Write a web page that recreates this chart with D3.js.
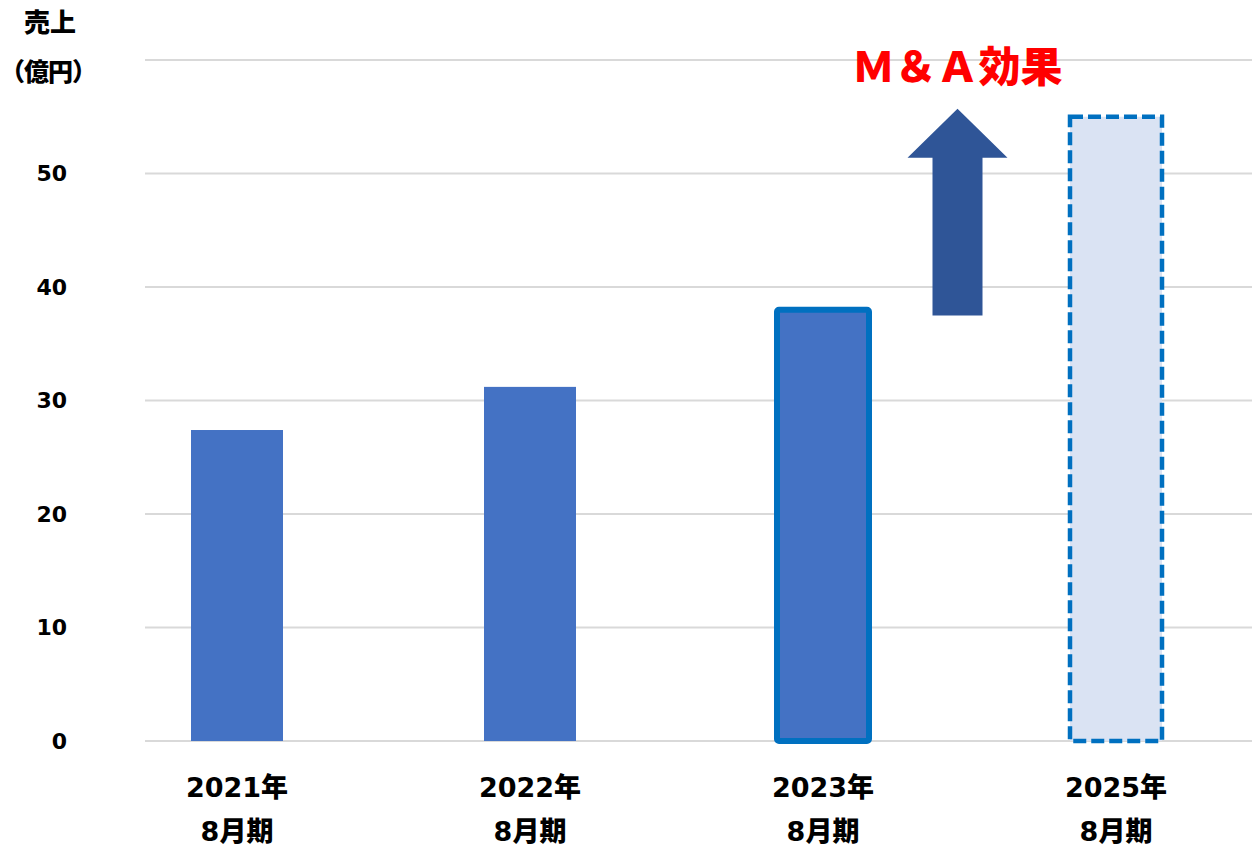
<!DOCTYPE html>
<html lang="ja">
<head>
    <meta charset="UTF-8">
    <title>売上推移</title>
    <script src="https://d3js.org/d3.v7.min.js"></script>
    <style>
        body {
            margin: 0;
            background: #ffffff;
        }
        svg text {
            font-family: 'DejaVu Sans', 'Noto Sans CJK JP', sans-serif;
            font-weight: 900;
            fill: #000;
        }
        .grid line {
            stroke: #d9d9d9;
            stroke-width: 2px;
        }
    </style>
</head>
<body>
    <svg width="1252" height="848"></svg>

    <script>
        // データ
        const years = ["2021年", "2022年", "2023年", "2025年"];
        const periods = ["8月期", "8月期", "8月期", "8月期"];
        const sales = [27.4, 31.2, 38, 55];
        const yTicks = [0, 10, 20, 30, 40, 50, 60];
        const tickLabels = ["0", "10", "20", "30", "40", "50", ""];
        const arrowFrom = 37.5, arrowTo = 55.7;   // M&A効果の矢印 (億円)

        const svg = d3.select("svg");

        const x = d3.scaleBand()
            .domain(years)
            .range([90.5, 1262.5])
            .paddingInner(0.686)
            .paddingOuter(0.343);

        const y = d3.scaleLinear()
            .domain([0, 60])
            .range([741, 60]);

        // グリッド線
        svg.append("g").attr("class", "grid")
            .selectAll("line")
            .data(yTicks)
            .enter()
            .append("line")
            .attr("x1", 145).attr("x2", 1252)
            .attr("y1", d => y(d)).attr("y2", d => y(d));

        // 目盛りラベル
        svg.append("g")
            .selectAll("text")
            .data(yTicks)
            .enter()
            .append("text")
            .attr("x", 67)
            .attr("y", d => y(d))
            .attr("dy", "0.36em")
            .attr("text-anchor", "end")
            .style("font-size", "22px")
            .text((d, i) => tickLabels[i]);

        // 軸タイトル
        svg.append("text").attr("x", 50).attr("y", 32)
            .attr("text-anchor", "middle").style("font-size", "26px").text("売上");
        svg.append("text").attr("x", 0).attr("y", 81)
            .attr("text-anchor", "start").style("font-size", "25px")
            .style("letter-spacing", "-1px").text("（億円）");

        // 棒
        const bars = svg.append("g");
        sales.forEach((v, i) => {
            const cat = years[i];
            if (i < 2) {
                bars.append("rect")
                    .attr("x", x(cat)).attr("width", x.bandwidth())
                    .attr("y", y(v)).attr("height", y(0) - y(v))
                    .attr("fill", "#4472c4");
            } else if (i === 2) {
                bars.append("rect")
                    .attr("x", x(cat)).attr("width", x.bandwidth())
                    .attr("y", y(v)).attr("height", y(0) - y(v))
                    .attr("fill", "#4472c4")
                    .attr("stroke", "#0070c0")
                    .attr("stroke-width", 6)
                    .attr("rx", 2);
            } else {
                bars.append("rect")
                    .attr("x", x(cat)).attr("width", x.bandwidth())
                    .attr("y", y(v)).attr("height", y(0) - y(v))
                    .attr("fill", "#dae3f3")
                    .attr("stroke", "#0070c0")
                    .attr("stroke-width", 4.5)
                    .attr("stroke-dasharray", "13,5");
            }
        });

        // 矢印
        const ax = x("2023年") + x.step() / 2 + x.bandwidth() / 2 - 12;
        const shaftW = 50, headW = 100, headH = 49;
        const yb = y(arrowFrom), yt = y(arrowTo);
        svg.append("path")
            .attr("d", `M${ax - shaftW / 2},${yb} L${ax - shaftW / 2},${yt + headH}
                        L${ax - headW / 2},${yt + headH} L${ax},${yt}
                        L${ax + headW / 2},${yt + headH} L${ax + shaftW / 2},${yt + headH}
                        L${ax + shaftW / 2},${yb} Z`)
            .attr("fill", "#2f5597");

        svg.append("text")
            .attr("x", ax).attr("y", 82)
            .attr("text-anchor", "middle")
            .style("font-family", "'Noto Sans CJK JP', sans-serif")
            .style("font-weight", 900)
            .style("font-size", "42px")
            .style("fill", "#ff0000")
            .text("Ｍ＆Ａ効果");

        // X軸ラベル
        const xl = svg.append("g");
        xl.selectAll(".yr")
            .data(years).enter().append("text")
            .attr("x", d => x(d) + x.bandwidth() / 2)
            .attr("y", 797)
            .attr("text-anchor", "middle")
            .style("font-size", "27px")
            .text(d => d);
        xl.selectAll(".pd")
            .data(periods).enter().append("text")
            .attr("x", (d, i) => x(years[i]) + x.bandwidth() / 2)
            .attr("y", 841)
            .attr("text-anchor", "middle")
            .style("font-size", "27px")
            .text(d => d);
    </script>
</body>
</html>
